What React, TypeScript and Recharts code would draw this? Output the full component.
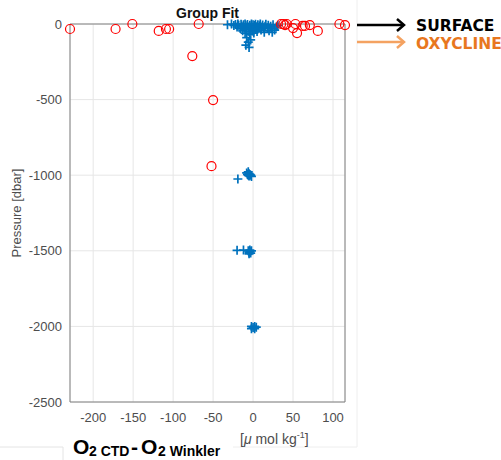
import { ScatterChart, Scatter, XAxis, YAxis, CartesianGrid, ReferenceLine } from "recharts";

// O2 CTD - O2 Winkler [umol/kg] vs pressure [dbar]
const xTicks = [-200, -150, -100, -50, 0, 50, 100];
const yTicks = [-2500, -2000, -1500, -1000, -500, 0];

const winklerOutliers = [
  { x: -229, y: -33 }, { x: -172, y: -33 }, { x: -151, y: 0 }, { x: -118, y: -46 },
  { x: -109, y: -33 }, { x: -105, y: -33 }, { x: -68, y: 0 }, { x: -76, y: -212 },
  { x: -50, y: -503 }, { x: -52, y: -940 }, { x: 35, y: 0 }, { x: 38, y: 0 },
  { x: 40, y: -7 }, { x: 42, y: 0 }, { x: 50, y: -27 }, { x: 53, y: 0 },
  { x: 55, y: -60 }, { x: 62, y: -13 }, { x: 65, y: -13 }, { x: 71, y: -7 },
  { x: 81, y: -46 }, { x: 108, y: 0 }, { x: 115, y: -7 },
];

const surfaceFit = [
  { x: -32, y: -5 }, { x: -27, y: 0 }, { x: -24, y: -10 }, { x: -22, y: -3 }, { x: -20, y: -20 },
  { x: -19, y: 0 }, { x: -18, y: -8 }, { x: -16, y: -30 }, { x: -15, y: -2 }, { x: -14, y: -15 },
  { x: -13, y: -45 }, { x: -12, y: -5 }, { x: -11, y: -25 }, { x: -10, y: 0 }, { x: -10, y: -60 },
  { x: -9, y: -12 }, { x: -8, y: -35 }, { x: -8, y: -90 }, { x: -7, y: -3 }, { x: -6, y: -20 },
  { x: -6, y: -120 }, { x: -5, y: -50 }, { x: -5, y: -155 }, { x: -4, y: -8 }, { x: -4, y: -70 },
  { x: -3, y: -30 }, { x: -2, y: 0 }, { x: -2, y: -15 }, { x: -1, y: -45 }, { x: 0, y: -5 },
  { x: 0, y: -25 }, { x: 1, y: -60 }, { x: 2, y: -10 }, { x: 3, y: -2 }, { x: 3, y: -35 },
  { x: 4, y: -18 }, { x: 5, y: -50 }, { x: 6, y: -5 }, { x: 7, y: -28 }, { x: 8, y: -12 },
  { x: 9, y: 0 }, { x: 10, y: -40 }, { x: 11, y: -20 }, { x: 12, y: -6 }, { x: 13, y: -30 },
  { x: 14, y: -55 }, { x: 15, y: -15 }, { x: 16, y: -2 }, { x: 18, y: -25 }, { x: 19, y: -8 },
  { x: 20, y: -45 }, { x: 22, y: -15 }, { x: 23, y: -30 }, { x: 25, y: -5 }, { x: 27, y: -40 },
  { x: 29, y: -20 }, { x: 31, y: -10 }, { x: -9, y: -140 }, { x: -3, y: -105 }, { x: 24, y: -55 },
];

const deepFit = [
  { x: -19, y: -1025 }, { x: -8, y: -985 }, { x: -7, y: -995 }, { x: -6, y: -1000 }, { x: -5, y: -990 },
  { x: -5, y: -1005 }, { x: -4, y: -995 }, { x: -3, y: -1000 }, { x: -2, y: -1008 }, { x: -6, y: -978 },
  { x: -20, y: -1497 }, { x: -12, y: -1495 }, { x: -6, y: -1500 }, { x: -5, y: -1510 }, { x: -4, y: -1505 },
  { x: -3, y: -1515 }, { x: -5, y: -1520 }, { x: -2, y: -1500 }, { x: -4, y: -1495 },
  { x: -2, y: -2000 }, { x: 2, y: -2000 }, { x: -2, y: -2015 }, { x: 2, y: -2015 }, { x: 0, y: -2008 },
  { x: 4, y: -2005 },
];

const FONT = "'Liberation Sans', Arial, sans-serif";

function Cross(props: any) {
  const { cx, cy } = props;
  return (
    <path
      d={`M${cx - 4.5},${cy}h9M${cx},${cy - 4.5}v9`}
      stroke="#0072BD"
      strokeWidth={1.7}
      fill="none"
    />
  );
}

function Ring(props: any) {
  const { cx, cy } = props;
  return <circle cx={cx} cy={cy} r={4.5} fill="none" stroke="#FF0000" strokeWidth={1.2} />;
}

export default function App() {
  const tick = { fontSize: 13, fill: "#4d4d4d", fontFamily: FONT };
  return (
    <div style={{ position: "absolute", left: 0, top: 0, width: 501, height: 460, background: "#fff" }}>
      <ScatterChart width={501} height={460} margin={{ top: 24, right: 156, bottom: 28, left: 0 }}>
        <CartesianGrid stroke="#e6e6e6" />
        <XAxis
          type="number"
          dataKey="x"
          domain={[-229, 115]}
          ticks={xTicks}
          height={30}
          tick={{ ...tick, dy: 3 }}
          tickLine={false}
          axisLine={{ stroke: "#808080" }}
        />
        <YAxis
          type="number"
          dataKey="y"
          domain={[-2500, 0]}
          ticks={yTicks}
          width={70}
          tick={tick}
          tickLine={false}
          axisLine={{ stroke: "#808080" }}
        />
        <ReferenceLine y={0} stroke="#808080" />
        <ReferenceLine x={115} stroke="#808080" />
        <Scatter data={surfaceFit} shape={Cross} isAnimationActive={false} />
        <Scatter data={deepFit} shape={Cross} isAnimationActive={false} />
        <Scatter data={winklerOutliers} shape={Ring} isAnimationActive={false} />
      </ScatterChart>

      <svg
        width={501}
        height={460}
        style={{ position: "absolute", left: 0, top: 0, pointerEvents: "none" }}
      >
        <line x1={357} y1={0} x2={357} y2={447} stroke="#eeeeee" />
        <line x1={233} y1={447} x2={357} y2={447} stroke="#eeeeee" />
        <line x1={0} y1={447} x2={63} y2={447} stroke="#e4e4e4" />
        <line x1={63} y1={447} x2={63} y2={460} stroke="#e4e4e4" />

        <text x={207.5} y={18} textAnchor="middle" fontSize={14} fontWeight="bold" fontFamily={FONT} fill="#111">
          Group Fit
        </text>
        <text
          x={21}
          y={213}
          transform="rotate(-90 21 213)"
          textAnchor="middle"
          fontSize={13}
          fontFamily={FONT}
          fill="#4d4d4d"
        >
          Pressure [dbar]
        </text>

        <g fontFamily={FONT} fontWeight="bold" fill="#000">
          <text x={73} y={454} fontSize={21}>O</text>
          <text x={89} y={456} fontSize={14}>2 CTD</text>
          <text x={131} y={454} fontSize={21}>-</text>
          <text x={141} y={454} fontSize={21}>O</text>
          <text x={158} y={456} fontSize={14}>2 Winkler</text>
        </g>
        <text x={240} y={444} fontSize={14} fontFamily={FONT} fill="#4d4d4d">
          [<tspan fontStyle="italic">μ</tspan> mol kg
          <tspan fontSize={9} dy={-6}>-1</tspan>
          <tspan dy={6}>]</tspan>
        </text>

        <line x1={357} y1={25} x2={403} y2={25} stroke="#000" strokeWidth={2.5} />
        <polyline points="397,19 404,25 397,31" fill="none" stroke="#000" strokeWidth={2.5} />
        <line x1={357} y1={42} x2={403} y2={42} stroke="#F4A261" strokeWidth={2.5} />
        <polyline points="397,36 404,42 397,48" fill="none" stroke="#F4A261" strokeWidth={2.5} />
        <text x={416} y={31} fontSize={15.5} fontWeight="bold" fontFamily="'DejaVu Sans', sans-serif" fill="#000">
          SURFACE
        </text>
        <text x={416} y={48.5} fontSize={15.5} fontWeight="bold" fontFamily="'DejaVu Sans', sans-serif" fill="#E8771F">
          OXYCLINE
        </text>
      </svg>
    </div>
  );
}
